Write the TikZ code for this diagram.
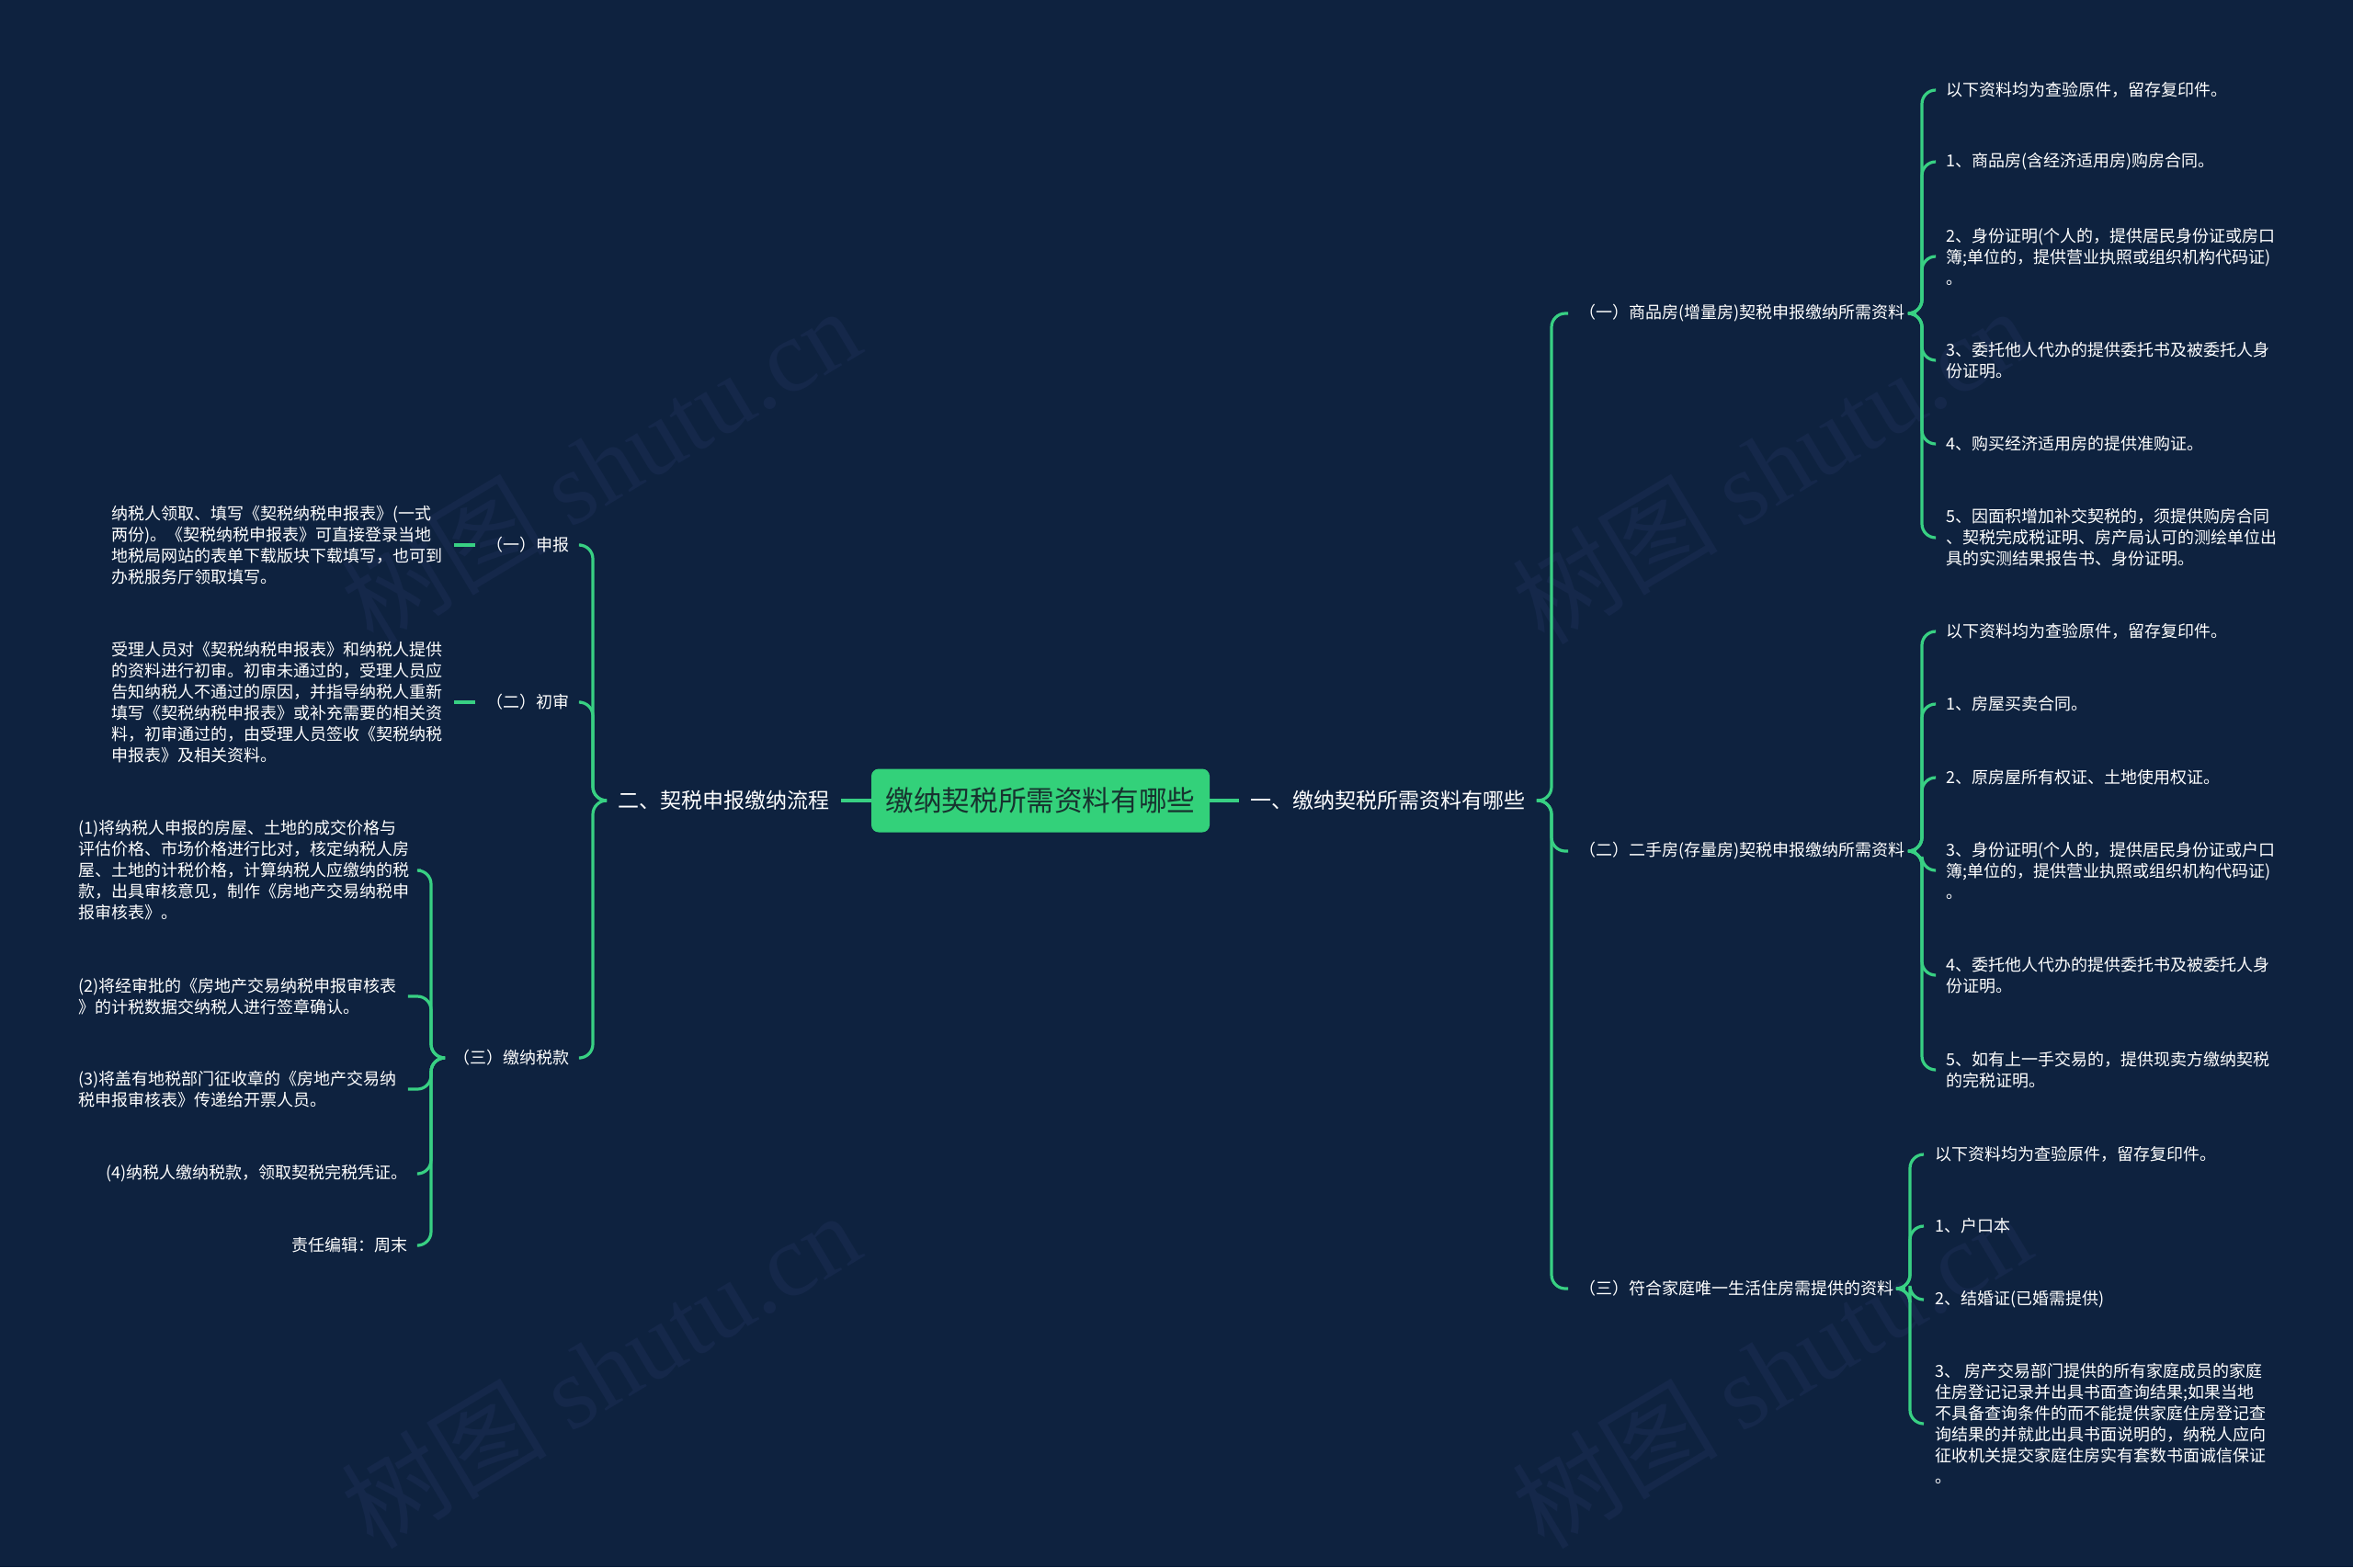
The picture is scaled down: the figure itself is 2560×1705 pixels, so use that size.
\documentclass[tikz,border=0pt]{standalone}
\usepackage{fontspec}
\setmainfont{Noto Sans CJK SC}
\newfontfamily\wmfont{Liberation Serif}
\usetikzlibrary{calc}
\definecolor{bgc}{HTML}{0E223F}
\definecolor{linec}{HTML}{38D083}
\definecolor{boxc}{HTML}{33D17A}
\definecolor{boxtext}{HTML}{17332F}
\definecolor{wmc}{HTML}{15284A}
\begin{document}
\begin{tikzpicture}[x=0.5pt,y=-0.5pt,
  conn/.style={draw=linec,line width=1.6pt,rounded corners=7.5pt},
  txt/.style={text=white,inner xsep=6pt,inner ysep=1pt,align=left,font=\fontsize{9pt}{11.5pt}\selectfont},
  branch/.style={text=white,inner xsep=6pt,inner ysep=1pt,font=\fontsize{11.5pt}{14pt}\selectfont},
  centerbox/.style={fill=boxc,text=boxtext,rounded corners=4pt,minimum width=184pt,minimum height=34.5pt,inner sep=0pt,font=\fontsize{15.3pt}{18pt}\selectfont},
  wm/.style={text=wmc,rotate=31,font=\fontsize{56pt}{60pt}\selectfont}
]
\useasboundingbox (0,0) rectangle (2560,1705);
\fill[bgc] (0,0) rectangle (2560,1705);

% watermarks
\node[wm] (w1) at (653,506) {树图 {\wmfont shutu.cn}};
\node[wm] (w2) at (1927,506) {树图 {\wmfont shutu.cn}};
\node[wm] (w3) at (653,1490) {树图 {\wmfont shutu.cn}};
\node[wm] (w4) at (1927,1490) {树图 {\wmfont shutu.cn}};

% bracket coordinates
\coordinate (bR) at (1688,871);
\coordinate (bL) at (645,871);
\coordinate (bR1) at (2091,341);
\coordinate (bR2) at (2091,926);
\coordinate (bR3) at (2078,1402);
\coordinate (bL3) at (469,1151);

% center
\node[centerbox] (C) at (1132,871) {缴纳契税所需资料有哪些};

% main branches
\node[branch,anchor=east] (L0) at (915,871) {二、契税申报缴纳流程};
\node[branch,anchor=west] (R0) at (1348,871) {一、缴纳契税所需资料有哪些};

% right sub-branches
\node[txt,anchor=west] (R1) at (1706,341) {（一）商品房(增量房)契税申报缴纳所需资料};
\node[txt,anchor=west] (R2) at (1706,926) {（二）二手房(存量房)契税申报缴纳所需资料};
\node[txt,anchor=west] (R3) at (1706,1402) {（三）符合家庭唯一生活住房需提供的资料};

% R1 children
\node[txt,anchor=west] (a1) at (2105,98) {以下资料均为查验原件，留存复印件。};
\node[txt,anchor=west] (a2) at (2105,176) {1、商品房(含经济适用房)购房合同。};
\node[txt,anchor=west] (a3) at (2105,279) {2、身份证明(个人的，提供居民身份证或房口\\簿;单位的，提供营业执照或组织机构代码证)\\。};
\node[txt,anchor=west] (a4) at (2105,392) {3、委托他人代办的提供委托书及被委托人身\\份证明。};
\node[txt,anchor=west] (a5) at (2105,483) {4、购买经济适用房的提供准购证。};
\node[txt,anchor=west] (a6) at (2105,585) {5、因面积增加补交契税的，须提供购房合同\\、契税完成税证明、房产局认可的测绘单位出\\具的实测结果报告书、身份证明。};

% R2 children
\node[txt,anchor=west] (b1) at (2105,687) {以下资料均为查验原件，留存复印件。};
\node[txt,anchor=west] (b2) at (2105,766) {1、房屋买卖合同。};
\node[txt,anchor=west] (b3) at (2105,846) {2、原房屋所有权证、土地使用权证。};
\node[txt,anchor=west] (b4) at (2105,947) {3、身份证明(个人的，提供居民身份证或户口\\簿;单位的，提供营业执照或组织机构代码证)\\。};
\node[txt,anchor=west] (b5) at (2105,1061) {4、委托他人代办的提供委托书及被委托人身\\份证明。};
\node[txt,anchor=west] (b6) at (2105,1164) {5、如有上一手交易的，提供现卖方缴纳契税\\的完税证明。};

% R3 children
\node[txt,anchor=west] (c1) at (2093,1256) {以下资料均为查验原件，留存复印件。};
\node[txt,anchor=west] (c2) at (2093,1334) {1、户口本};
\node[txt,anchor=west] (c3) at (2093,1414) {2、结婚证(已婚需提供)};
\node[txt,anchor=west] (c4) at (2093,1549) {3、 房产交易部门提供的所有家庭成员的家庭\\住房登记记录并出具书面查询结果;如果当地\\不具备查询条件的而不能提供家庭住房登记查\\询结果的并就此出具书面说明的，纳税人应向\\征收机关提交家庭住房实有套数书面诚信保证\\。};

% left sub-branches
\node[txt,anchor=east] (L1) at (632,593) {（一）申报};
\node[txt,anchor=east] (L2) at (632,764) {（二）初审};
\node[txt,anchor=east] (L3) at (632,1151) {（三）缴纳税款};

\node[txt,anchor=west] (l1) at (109,593) {纳税人领取、填写《契税纳税申报表》(一式\\两份)。《契税纳税申报表》可直接登录当地\\地税局网站的表单下载版块下载填写，也可到\\办税服务厅领取填写。};
\node[txt,anchor=west] (l2) at (109,764) {受理人员对《契税纳税申报表》和纳税人提供\\的资料进行初审。初审未通过的，受理人员应\\告知纳税人不通过的原因，并指导纳税人重新\\填写《契税纳税申报表》或补充需要的相关资\\料，初审通过的，由受理人员签收《契税纳税\\申报表》及相关资料。};

\node[txt,anchor=west] (d1) at (73,947) {(1)将纳税人申报的房屋、土地的成交价格与\\评估价格、市场价格进行比对，核定纳税人房\\屋、土地的计税价格，计算纳税人应缴纳的税\\款，出具审核意见，制作《房地产交易纳税申\\报审核表》。};
\node[txt,anchor=west] (d2) at (73,1084) {(2)将经审批的《房地产交易纳税申报审核表\\》的计税数据交纳税人进行签章确认。};
\node[txt,anchor=west] (d3) at (73,1185) {(3)将盖有地税部门征收章的《房地产交易纳\\税申报审核表》传递给开票人员。};
\node[txt,anchor=east] (d4) at (456,1277) {(4)纳税人缴纳税款，领取契税完税凭证。};
\node[txt,anchor=east] (d5) at (456,1355) {责任编辑：周末};

% connectors: center
\draw[conn] (C.east) -- (R0.west);
\draw[conn] (C.west) -- (L0.east);

% right main bracket
\foreach \n in {R1,R2,R3}
  \draw[conn] (R0.east) -| (bR |- \n.west) -- (\n.west);
\foreach \n in {a1,a2,a3,a4,a5,a6}
  \draw[conn] (R1.east) -| (bR1 |- \n.west) -- (\n.west);
\foreach \n in {b1,b2,b3,b4,b5,b6}
  \draw[conn] (R2.east) -| (bR2 |- \n.west) -- (\n.west);
\foreach \n in {c1,c2,c3,c4}
  \draw[conn] (R3.east) -| (bR3 |- \n.west) -- (\n.west);

% left
\foreach \n in {L1,L2,L3}
  \draw[conn] (L0.west) -| (bL |- \n.east) -- (\n.east);
\draw[conn] (L1.west) -- (l1.east |- L1.west);
\draw[conn] (L2.west) -- (l2.east |- L2.west);
\foreach \n in {d1,d2,d3,d4,d5}
  \draw[conn] (L3.west) -| (bL3 |- \n.east) -- (\n.east);
\end{tikzpicture}
\end{document}
